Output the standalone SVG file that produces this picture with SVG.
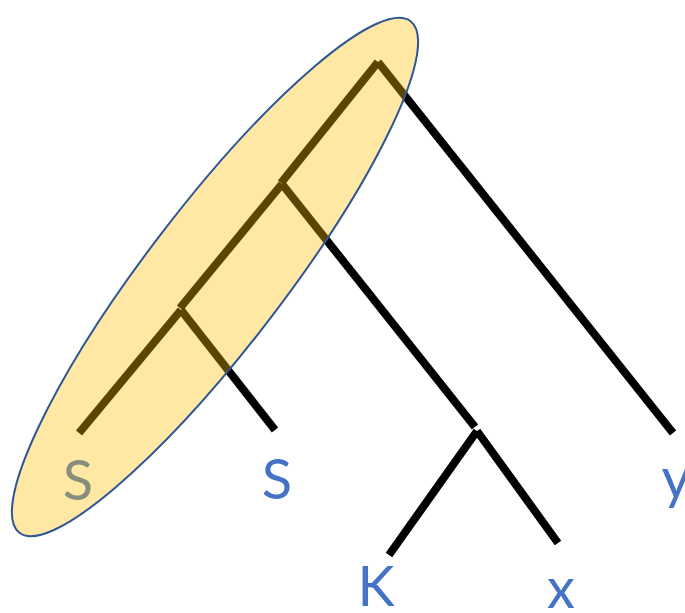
<svg xmlns="http://www.w3.org/2000/svg" width="685" height="613" viewBox="0 0 685 613">
<style>
.e{stroke:#000;stroke-width:8;stroke-linecap:butt;fill:none}
.lbl{font-family:Lato,"Open Sans","Liberation Sans",sans-serif;font-size:56px;fill:#4472C4;text-anchor:middle}
</style>
<rect width="685" height="613" fill="#fff"/>
<g id="connectors">
<line class="e" x1="378" y1="62" x2="281" y2="183"/>
<line class="e" x1="378" y1="62" x2="673" y2="433"/>
<line class="e" x1="282" y1="184" x2="180" y2="308"/>
<line class="e" x1="282" y1="184" x2="475" y2="427"/>
<line class="e" x1="181" y1="310" x2="79" y2="433"/>
<line class="e" x1="181" y1="310" x2="275" y2="430"/>
<line class="e" x1="477" y1="431" x2="389" y2="555"/>
<line class="e" x1="477" y1="431" x2="558" y2="543"/>
</g>
<g id="node-s1"><text class="lbl" x="78" y="500">S</text></g>
<g id="node-s2"><text class="lbl" x="277" y="499">S</text></g>
<g id="node-k"><text class="lbl" x="376" y="606">K</text></g>
<g id="node-x"><text class="lbl" x="561" y="608">x</text></g>
<g id="node-y"><text class="lbl" x="676" y="498">y</text></g>
<g id="highlight">
<ellipse cx="215" cy="277" rx="322" ry="69" transform="rotate(-52.6 215 277)" fill="#FFC000" fill-opacity="0.36" stroke="#2F5597" stroke-width="2"/>
</g>
</svg>
